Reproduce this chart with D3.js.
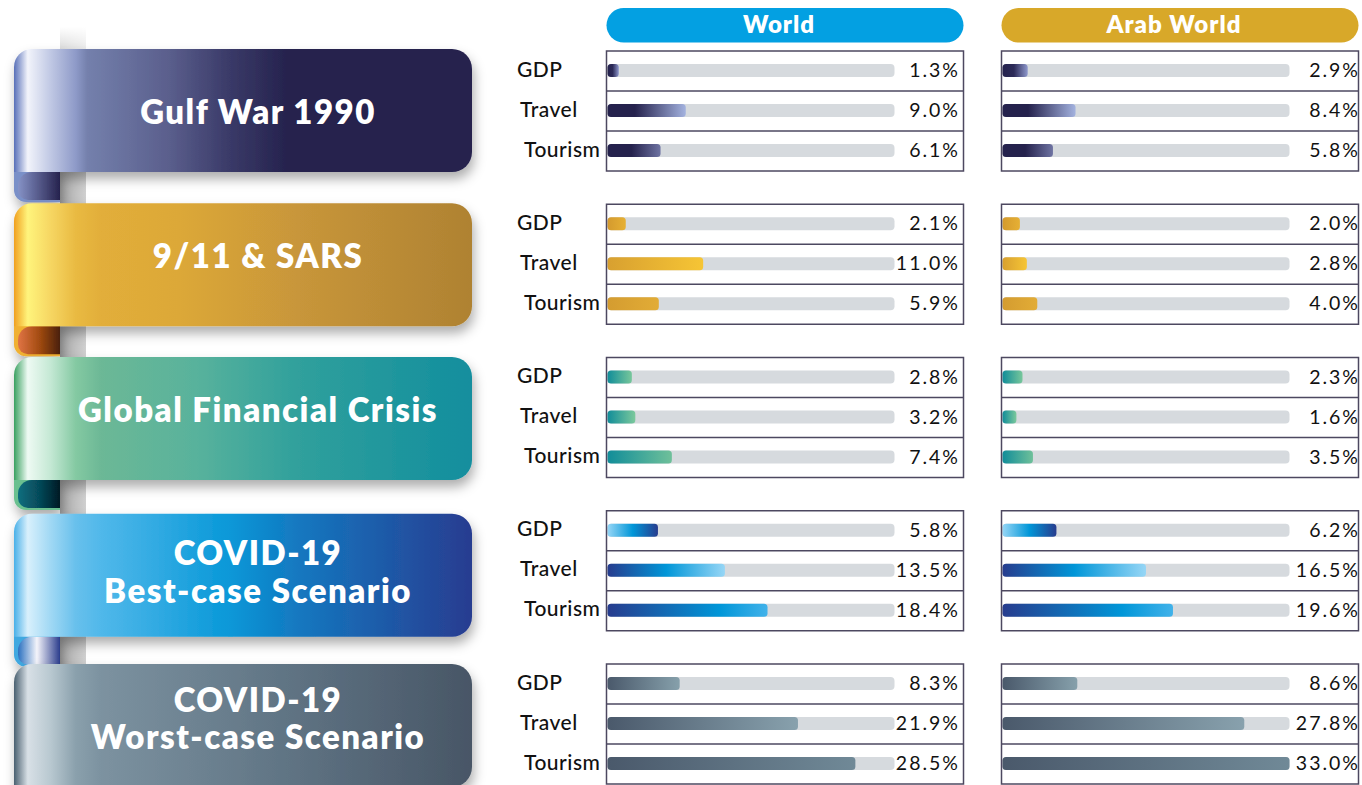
<!DOCTYPE html>
<meta charset="utf-8">

<head>
    <title>Crisis impact: World vs Arab World</title>
    <script src="https://d3js.org/d3.v7.min.js"></script>
    <style>
        body { margin: 0; background: #fff; }
        .rowlab { font: 500 21px Lato, sans-serif; fill: #111; letter-spacing: 0.5px; }
        .val { font: 400 19.5px Lato, sans-serif; fill: #111; letter-spacing: 2px; }
        .ribtxt { font: 800 33px Lato, sans-serif; fill: #fff; letter-spacing: 1.5px; }
        .head { font: 800 24px Lato, sans-serif; fill: #fff; letter-spacing: 1px; }
    </style>
</head>

<body>
    <svg width="1362" height="785"></svg>
    <script>

        // ---- data ----
        var scenarios = ["Gulf War 1990", "9/11 & SARS", "Global Financial Crisis",
            "COVID-19\nBest-case Scenario", "COVID-19\nWorst-case Scenario"];
        var indicators = ["GDP", "Travel", "Tourism"];
        var regions = ["World", "Arab World"];
        var worldValues = [[1.3, 9.0, 6.1], [2.1, 11.0, 5.9], [2.8, 3.2, 7.4], [5.8, 13.5, 18.4], [8.3, 21.9, 28.5]];
        var arabValues = [[2.9, 8.4, 5.8], [2.0, 2.8, 4.0], [2.3, 1.6, 3.5], [6.2, 16.5, 19.6], [8.6, 27.8, 33.0]];
        var maxValue = 33;

        // ---- styles ----
        var headColors = ["#03a0e2", "#d8a829"];
        var ribbonStops = [
            [[0, "#5870b8"], [0.03, "#f2f4fb"], [0.08, "#c0c8e4"], [0.135, "#8e9ac8"], [0.16, "#7480ac"], [0.34, "#5a5e8c"], [0.47, "#3a3a68"], [0.6, "#25224d"], [1, "#25224d"]],
            [[0, "#f0a020"], [0.03, "#fff47c"], [0.08, "#f6d662"], [0.135, "#e9ba42"], [0.19, "#e2ae3a"], [0.36, "#dca838"], [0.62, "#c8963a"], [1, "#af8232"]],
            [[0, "#3aa060"], [0.03, "#eefaf3"], [0.08, "#c4e8d4"], [0.135, "#84c9a2"], [0.19, "#6cb896"], [0.4, "#58b29c"], [0.62, "#30a09c"], [1, "#128e9e"]],
            [[0, "#4ab0e8"], [0.03, "#d8f0fc"], [0.08, "#a0d8f4"], [0.135, "#68c0ec"], [0.19, "#50b8ea"], [0.47, "#0898d8"], [0.62, "#1478c0"], [1, "#283c90"]],
            [[0, "#4a6070"], [0.03, "#d8e0e6"], [0.08, "#b8c8d0"], [0.135, "#8aa0ac"], [0.19, "#7c92a0"], [0.62, "#5e7282"], [1, "#485666"]]
        ];
        var curlStops = [
            [[0, "#8592c6"], [0.45, "#5a5f90"], [1, "#25224d"]],
            [[0, "#e07444"], [0.5, "#a44c12"], [1, "#4a2008"]],
            [[0, "#0b6e7e"], [0.5, "#064a5a"], [1, "#001a24"]],
            [[0, "#2a70c0"], [0.45, "#f4f4fa"], [1, "#2a3c8c"]],
            [[0, "#5a6878"], [0.5, "#3c4a58"], [1, "#2a3644"]]
        ];
        var rimColors = ["#7a90c8", "#f0b030", "#6ac090", "#40a8e0", "#607080"];
        var barStops = [
            [[[0, "#25224d"], [0.45, "#2c2a58"], [1, "#8e98cc"]],
             [[0, "#25224d"], [0.35, "#25224d"], [1, "#a3b2df"]],
             [[0, "#25224d"], [0.45, "#25224d"], [1, "#6e73a2"]]],
            [[[0, "#d49a2e"], [1, "#e6b034"]],
             [[0, "#d8a030"], [1, "#f6c535"]],
             [[0, "#d49c30"], [1, "#e2ac36"]]],
            [[[0, "#118d99"], [1, "#78c79b"]],
             [[0, "#118d99"], [1, "#7cc99c"]],
             [[0, "#118d99"], [1, "#6fc09a"]]],
            [[[0, "#96d6f6"], [0.5, "#0096d8"], [1, "#273c8e"]],
             [[0, "#273c8e"], [0.5, "#0096d8"], [1, "#96d6f6"]],
             [[0, "#273c8e"], [0.7, "#0096d8"], [1, "#41b2ea"]]],
            [[[0, "#4a596b"], [1, "#86a0ab"]],
             [[0, "#4a596b"], [1, "#88a1ad"]],
             [[0, "#4a596b"], [1, "#708997"]]]
        ];
        var ribbonNudge = [0, 1, 1.5, 5, 2];
        var labelBase = [[75], [65], [65], [51, 89], [48, 85]];
        var rowLabelX = [517, 520, 524];
        var valueRight = [958, 1358];

        var svg = d3.select("svg");
        var defs = svg.append("defs");

        function addGrad(id, stops, units) {
            var g = defs.append("linearGradient").attr("id", id)
                .attr("x1", 0).attr("x2", 1).attr("y1", 0).attr("y2", 0);
            if (units) g.attr("gradientUnits", units.u).attr("x1", units.x1).attr("x2", units.x2);
            stops.forEach(function (s) {
                g.append("stop").attr("offset", s[0]).attr("stop-color", s[1]);
            });
        }

        ribbonStops.forEach(function (s, i) { addGrad("rib" + i, s, { u: "userSpaceOnUse", x1: 14, x2: 472 }); });
        curlStops.forEach(function (s, i) { addGrad("curl" + i, s, { u: "userSpaceOnUse", x1: 18, x2: 60 }); });
        barStops.forEach(function (g, i) {
            g.forEach(function (s, j) { addGrad("bar" + i + "-" + j, s); });
        });
        addGrad("pole", [[0, "#a8a8a8"], [1, "#d0d0d0"]]);
        var fade = defs.append("linearGradient").attr("id", "poleFade")
            .attr("x1", 0).attr("x2", 0).attr("y1", 0).attr("y2", 1);
        fade.append("stop").attr("offset", 0).attr("stop-color", "#fff").attr("stop-opacity", 1);
        fade.append("stop").attr("offset", 1).attr("stop-color", "#fff").attr("stop-opacity", 0.55);

        var f = defs.append("filter").attr("id", "shadow")
            .attr("x", "-10%").attr("y", "-20%").attr("width", "125%").attr("height", "160%");
        f.append("feDropShadow").attr("dx", 2).attr("dy", 7).attr("stdDeviation", 6)
            .attr("flood-color", "#000").attr("flood-opacity", 0.32);

        // ---- scales ----
        var groupY = d3.scalePoint().domain(d3.range(scenarios.length)).range([51, 664]);
        var rowY = d3.scaleBand().domain(indicators).range([0, 120]);
        var regionX = d3.scaleBand().domain(regions).range([606.5, 1358.5]).paddingInner(38 / 395);
        var x = d3.scaleLinear().domain([0, maxValue]).range([0, 287]);

        // ---- left ribbons ----
        var x0 = 14, x1 = 472, rh = 123;
        svg.append("rect").attr("x", 60).attr("y", 27).attr("width", 26).attr("height", 760)
            .attr("fill", "url(#pole)");
        svg.append("rect").attr("x", 60).attr("y", 27).attr("width", 26).attr("height", 24)
            .attr("fill", "url(#poleFade)");

        scenarios.forEach(function (name, i) {
            var top = groupY(i) - 2 + ribbonNudge[i], bot = top + rh;
            var g = svg.append("g").attr("filter", "url(#shadow)");

            // curl under the ribbon
            g.append("path")
                .attr("d", "M" + x0 + "," + (bot - 6) + "V" + (bot + 18) +
                    "A12,12 0 0 0 " + (x0 + 12) + "," + (bot + 30) + "H60V" + (bot - 6) + "Z")
                .attr("fill", rimColors[i]);
            g.append("path")
                .attr("d", "M18," + (bot + 14) + "A14,14 0 0 1 32," + bot + "H60V" + (bot + 28) +
                    "H28A10,10 0 0 1 18," + (bot + 18) + "Z")
                .attr("fill", "url(#curl" + i + ")");

            // ribbon body
            g.append("path")
                .attr("d", "M" + x0 + "," + (top + 18) + "A18,18 0 0 1 " + (x0 + 18) + "," + top +
                    "H" + (x1 - 20) + "A20,20 0 0 1 " + x1 + "," + (top + 20) +
                    "V" + (bot - 20) + "A20,20 0 0 1 " + (x1 - 20) + "," + bot + "H" + x0 + "Z")
                .attr("fill", "url(#rib" + i + ")");

            var lines = name.split("\n");
            lines.forEach(function (ln, k) {
                svg.append("text").attr("class", "ribtxt")
                    .attr("x", 258).attr("y", top + labelBase[i][k])
                    .attr("text-anchor", "middle").text(ln);
            });
        });

        // ---- headers ----
        regions.forEach(function (r, j) {
            svg.append("rect").attr("x", regionX(r)).attr("y", 8)
                .attr("width", regionX.bandwidth()).attr("height", 34.5)
                .attr("rx", 17.25).attr("fill", headColors[j]);
            svg.append("text").attr("class", "head")
                .attr("x", regionX(r) + regionX.bandwidth() / 2 - 6).attr("y", 33)
                .attr("text-anchor", "middle").text(r);
        });

        // ---- bar panels ----
        scenarios.forEach(function (name, i) {
            var top = groupY(i);
            indicators.forEach(function (ind, k) {
                svg.append("text").attr("class", "rowlab")
                    .attr("x", rowLabelX[k]).attr("y", top + rowY(ind) + 25.5).text(ind);
            });
            regions.forEach(function (r, j) {
                var vals = j === 0 ? worldValues[i] : arabValues[i];
                var bx = regionX(r), bw = regionX.bandwidth();
                var panel = svg.append("g");
                indicators.forEach(function (ind, k) {
                    var ry = top + rowY(ind);
                    panel.append("rect").attr("x", bx + 1).attr("y", ry + 13)
                        .attr("width", x(maxValue)).attr("height", 13).attr("rx", 4)
                        .attr("fill", "#d6dade");
                    panel.append("rect").attr("x", bx + 1).attr("y", ry + 13)
                        .attr("width", x(vals[k])).attr("height", 13).attr("rx", 3.5)
                        .attr("fill", "url(#bar" + i + "-" + k + ")");
                    svg.append("text").attr("class", "val")
                        .attr("x", valueRight[j] + 2).attr("y", ry + 26)
                        .attr("text-anchor", "end").text(vals[k].toFixed(1) + "%");
                    if (k > 0) {
                        panel.append("line").attr("x1", bx).attr("x2", bx + bw)
                            .attr("y1", ry).attr("y2", ry)
                            .attr("stroke", "#4d4860").attr("stroke-width", 1.5);
                    }
                });
                panel.append("rect").attr("x", bx).attr("y", top)
                    .attr("width", bw).attr("height", rowY.range()[1])
                    .attr("fill", "none").attr("stroke", "#4d4860").attr("stroke-width", 1.5);
            });
        });

    </script>
</body>

</html>
